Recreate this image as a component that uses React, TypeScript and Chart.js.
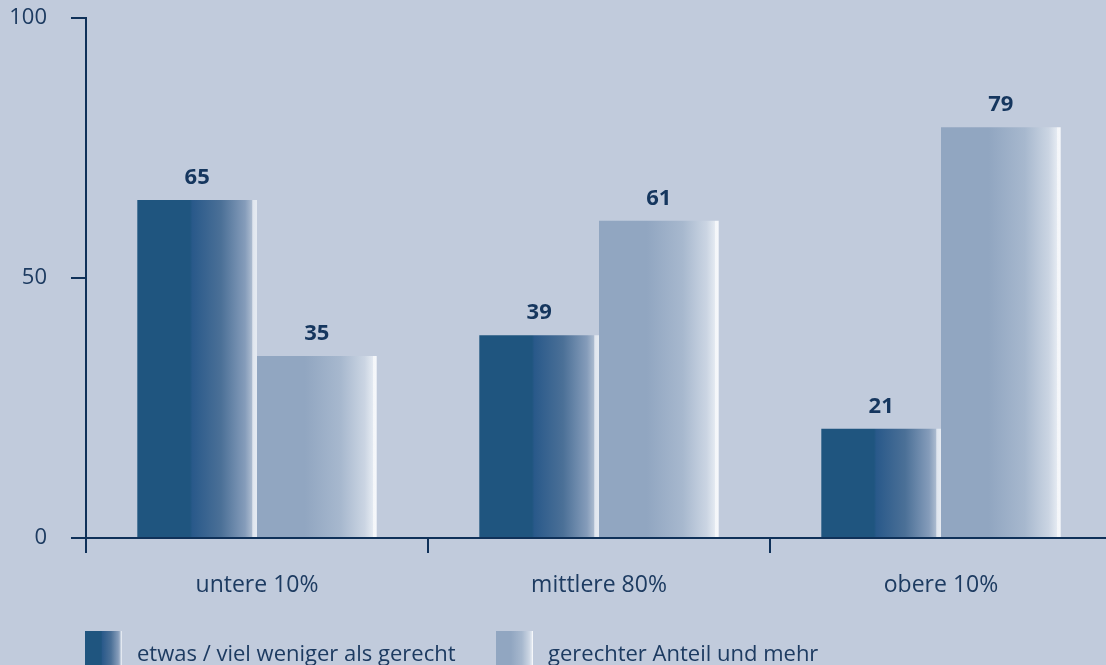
import React, { useEffect, useRef } from "react";
import { Chart, registerables } from "chart.js";

Chart.register(...registerables);

const categories = ["untere 10%", "mittlere 80%", "obere 10%"];
const seriesNames = ["etwas / viel weniger als gerecht", "gerechter Anteil und mehr"];
const seriesWeniger = [65, 39, 21];
const seriesGerecht = [35, 61, 79];
const yTickValues = [0, 50, 100];

const BG = "#c1cbdc";
const NAVY = "#0f3159";
const TEXT = "#1d3b61";
const FONT = "'Open Sans', 'Noto Sans', sans-serif";
const CAT_PCT = 0.7;

const darkStops: [number, string][] = [
  [0, "#1f557f"],
  [0.44, "#1f557f"],
  [0.46, "#29598a"],
  [0.7, "#4b7097"],
  [0.9, "#859cba"],
  [0.955, "#a9b9ce"],
  [0.965, "#dfe5ee"],
  [1, "#e6ebf2"],
];
const lightStops: [number, string][] = [
  [0, "#91a6c1"],
  [0.4, "#91a6c1"],
  [0.7, "#a7b8ce"],
  [0.9, "#cbd5e3"],
  [0.965, "#e3e9f1"],
  [0.97, "#f4f6f9"],
  [1, "#f6f8fb"],
];

function cssGradient(stops: [number, string][]) {
  return "linear-gradient(to right, " + stops.map(([p, c]) => `${c} ${(p * 100).toFixed(1)}%`).join(", ") + ")";
}

function barGradient(ctx: any, dsIndex: number) {
  const chart = ctx.chart;
  const stops = dsIndex === 0 ? darkStops : lightStops;
  const area = chart.chartArea;
  const xs = chart.scales?.x;
  if (!area || !xs || ctx.type !== "data") return stops[0][1];
  const center = xs.getPixelForValue(ctx.dataIndex);
  const catW = (area.right - area.left) / categories.length;
  const barW = (catW * CAT_PCT) / 2;
  const left = dsIndex === 0 ? center - barW : center;
  const g = chart.ctx.createLinearGradient(left, 0, left + barW, 0);
  stops.forEach(([p, c]) => g.addColorStop(p, c));
  return g;
}

const valueLabels = {
  id: "valueLabels",
  afterDatasetsDraw(chart: any) {
    const c = chart.ctx;
    c.save();
    c.font = `bold 22px ${FONT}`;
    c.fillStyle = "#15365e";
    c.textAlign = "center";
    c.textBaseline = "alphabetic";
    chart.data.datasets.forEach((ds: any, di: number) => {
      const meta = chart.getDatasetMeta(di);
      meta.data.forEach((bar: any, i: number) => {
        c.fillText(String(ds.data[i]), bar.x, bar.y - 16);
      });
    });
    c.restore();
  },
};

export default function App() {
  const ref = useRef<HTMLCanvasElement>(null);

  useEffect(() => {
    if (!ref.current) return;
    document.body.style.margin = "0";
    const chart = new Chart(ref.current, {
      type: "bar",
      data: {
        labels: categories,
        datasets: [
          {
            label: seriesNames[0],
            data: seriesWeniger,
            backgroundColor: (ctx: any) => barGradient(ctx, 0),
            borderWidth: 0,
            categoryPercentage: CAT_PCT,
            barPercentage: 1,
          },
          {
            label: seriesNames[1],
            data: seriesGerecht,
            backgroundColor: (ctx: any) => barGradient(ctx, 1),
            borderWidth: 0,
            categoryPercentage: CAT_PCT,
            barPercentage: 1,
          },
        ],
      },
      options: {
        responsive: false,
        animation: false,
        layout: { padding: { top: 0, right: 8, left: 0, bottom: 0 } },
        plugins: {
          legend: { display: false },
          tooltip: { enabled: false },
        },
        scales: {
          x: {
            offset: true,
            grid: {
              display: true,
              drawOnChartArea: false,
              drawTicks: true,
              tickLength: 15,
              color: NAVY,
              lineWidth: 2,
              offset: true,
            },
            border: { display: true, color: NAVY, width: 2 },
            ticks: {
              color: TEXT,
              font: { family: FONT, size: 23 },
              padding: 19,
              maxRotation: 0,
            },
            afterFit: (s: any) => {
              s.height = 127;
            },
          },
          y: {
            min: 0,
            max: 100,
            afterBuildTicks: (s: any) => {
              s.ticks = yTickValues.map((v) => ({ value: v }));
            },
            grid: {
              display: true,
              drawOnChartArea: false,
              drawTicks: true,
              tickLength: 15,
              color: NAVY,
              lineWidth: 2,
            },
            border: { display: true, color: NAVY, width: 2 },
            ticks: {
              color: TEXT,
              font: { family: FONT, size: 22 },
              padding: 24,
            },
            afterFit: (s: any) => {
              s.width = 86;
              s.paddingTop = 18;
              s.paddingBottom = 0;
            },
          },
        },
      },
      plugins: [valueLabels],
    });
    return () => chart.destroy();
  }, []);

  const legendItems = [
    { box: 85, text: 137, stops: darkStops, label: seriesNames[0] },
    { box: 496, text: 548, stops: lightStops, label: seriesNames[1] },
  ];

  return (
    <div
      style={{
        position: "absolute",
        left: 0,
        top: 0,
        width: 1106,
        height: 665,
        overflow: "hidden",
        background: BG,
      }}
    >
      <canvas ref={ref} width={1120} height={665} style={{ display: "block" }} />
      {legendItems.map((it, i) => (
        <React.Fragment key={i}>
          <div
            style={{
              position: "absolute",
              left: it.box,
              top: 631,
              width: 37,
              height: 40,
              background: cssGradient(it.stops),
            }}
          />
          <div
            style={{
              position: "absolute",
              left: it.text,
              top: 637,
              lineHeight: "30px",
              fontFamily: FONT,
              fontSize: 22,
              color: TEXT,
              whiteSpace: "nowrap",
            }}
          >
            {it.label}
          </div>
        </React.Fragment>
      ))}
    </div>
  );
}
